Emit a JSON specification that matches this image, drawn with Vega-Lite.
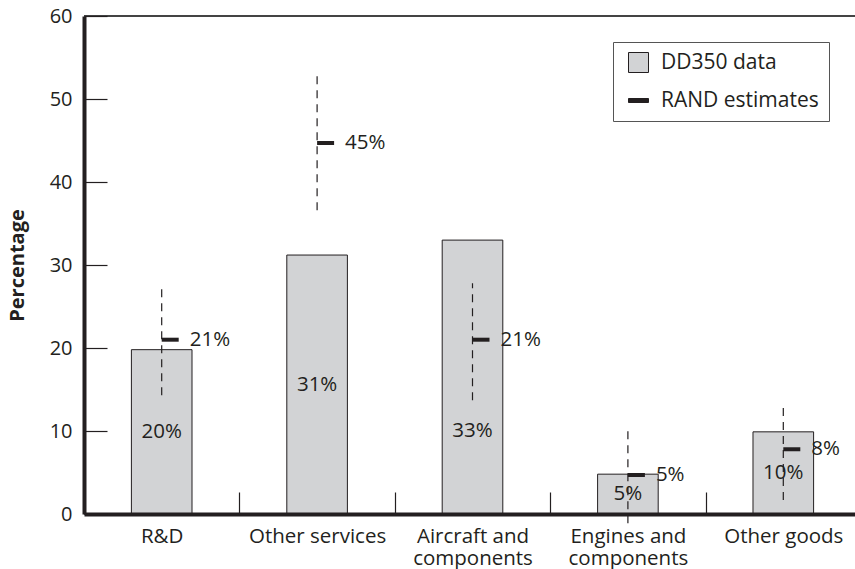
{
  "$schema": "https://vega.github.io/schema/vega-lite/v6.json",
  "width": 777,
  "height": 498,
  "autosize": {"type": "none"},
  "padding": {"left": 84, "top": 16, "right": 0, "bottom": 55},
  "background": "white",
  "config": {
    "view": {"stroke": null},
    "font": "Open Sans",
    "text": {"font": "Open Sans", "fontSize": 20.5, "color": "#231f20"}
  },
  "data": {
    "values": [
      {"cat": "R&D", "dd350": 19.8, "rand": 21, "lo": 14.3, "hi": 27.8, "ddLabel": "20%", "randLabel": "21%"},
      {"cat": "Other services", "dd350": 31.2, "rand": 44.7, "lo": 36.6, "hi": 53.3, "ddLabel": "31%", "randLabel": "45%"},
      {"cat": "Aircraft and components", "dd350": 33.0, "rand": 21, "lo": 13.7, "hi": 27.8, "ddLabel": "33%", "randLabel": "21%"},
      {"cat": "Engines and components", "dd350": 4.8, "rand": 4.7, "lo": -1.1, "hi": 10.7, "ddLabel": "5%", "randLabel": "5%"},
      {"cat": "Other goods", "dd350": 9.9, "rand": 7.8, "lo": 1.7, "hi": 13.5, "ddLabel": "10%", "randLabel": "8%"}
    ]
  },
  "encoding": {
    "x": {
      "field": "cat",
      "type": "nominal",
      "sort": null,
      "scale": {"paddingInner": 0, "paddingOuter": 0},
      "axis": {
        "title": null,
        "tickBand": "extent",
        "tickSize": -22,
        "tickColor": "#231f20",
        "tickWidth": 1.2,
        "domainColor": "#231f20",
        "domainWidth": 4,
        "labelAngle": 0,
        "labelFont": "Open Sans",
        "labelFontSize": 20.5,
        "labelColor": "#231f20",
        "labelPadding": 34,
        "labelBaseline": "top",
        "labelLineHeight": 22,
        "labelExpr": "datum.label == 'Aircraft and components' ? ['Aircraft and', 'components'] : datum.label == 'Engines and components' ? ['Engines and', 'components'] : datum.label",
        "zindex": 1
      }
    }
  },
  "layer": [
    {
      "mark": {"type": "rule", "color": "#444444", "strokeWidth": 1.5},
      "encoding": {"y": {"datum": 60, "type": "quantitative"}, "x": null}
    },
    {
      "mark": {"type": "bar", "stroke": "#231f20", "strokeWidth": 1, "width": {"band": 0.39}},
      "encoding": {
        "y": {
          "field": "dd350",
          "type": "quantitative",
          "scale": {"domain": [0, 60], "nice": false},
          "axis": {
            "title": "Percentage",
            "titleFont": "Open Sans",
            "titleFontSize": 20,
            "titleFontWeight": "bold",
            "titleColor": "#231f20",
            "values": [0, 10, 20, 30, 40, 50, 60],
            "tickSize": -23,
            "tickColor": "#231f20",
            "tickWidth": 1.2,
            "domainColor": "#231f20",
            "domainWidth": 4,
            "grid": false,
            "labelFont": "Open Sans",
            "labelFontSize": 20,
            "labelColor": "#231f20",
            "labelPadding": 35,
            "titlePadding": 22,
            "zindex": 1
          }
        },
        "fill": {
          "datum": "DD350 data",
          "type": "nominal",
          "scale": {"domain": ["DD350 data", "RAND estimates"], "range": ["#d2d3d5", "#231f20"]},
          "legend": {
            "title": null,
            "orient": "none",
            "legendX": 529,
            "legendY": 26,
            "padding": 10,
            "rowPadding": 14,
            "symbolOffset": 5,
            "strokeColor": "#555555",
            "fillColor": "white",
            "symbolSize": 400,
            "symbolOpacity": 1,
            "symbolStrokeColor": "#231f20",
            "symbolStrokeWidth": 1,
            "labelFont": "Open Sans",
            "labelFontSize": 21,
            "labelColor": "#231f20",
            "labelOffset": 12,
            "encode": {
              "symbols": {
                "update": {
                  "shape": {"signal": "datum.value === 'RAND estimates' ? 'M-1,-0.2H1V0.2H-1Z' : 'square'"},
                  "stroke": {"value": "#231f20"},
                  "strokeWidth": {"value": 1},
                  "opacity": {"value": 1}
                }
              }
            }
          }
        }
      }
    },
    {
      "mark": {"type": "rule", "color": "#231f20", "strokeWidth": 1.2, "strokeDash": [8, 6]},
      "encoding": {
        "y": {"field": "lo", "type": "quantitative"},
        "y2": {"field": "hi"}
      }
    },
    {
      "mark": {"type": "tick", "orient": "horizontal", "size": 17, "thickness": 4, "xOffset": 8.5, "opacity": 1},
      "encoding": {
        "y": {"field": "rand", "type": "quantitative"},
        "fill": {"datum": "RAND estimates", "type": "nominal"}
      }
    },
    {
      "mark": {"type": "text", "align": "left", "baseline": "middle", "dx": 28},
      "encoding": {
        "y": {"field": "rand", "type": "quantitative"},
        "text": {"field": "randLabel"}
      }
    },
    {
      "transform": [{"calculate": "datum.dd350 / 2", "as": "mid"}],
      "mark": {"type": "text", "align": "center", "baseline": "middle", "yOffset": {"expr": "datum.cat === 'Aircraft and components' ? 54 : 0"}},
      "encoding": {
        "y": {"field": "mid", "type": "quantitative"},
        "text": {"field": "ddLabel"}
      }
    }
  ]
}
